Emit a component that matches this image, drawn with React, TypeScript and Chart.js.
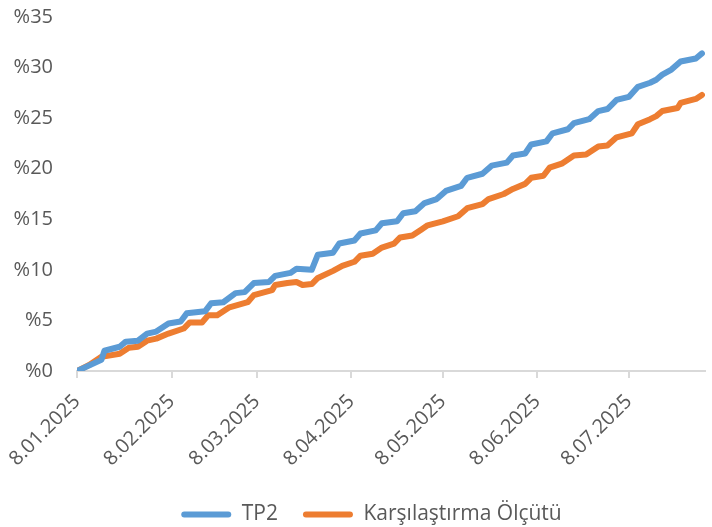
import { useEffect, useRef } from "react";
import { Chart, registerables } from "chart.js";

Chart.register(...registerables);

// x values are days counted from 8.01.2025
const tickDays = [0, 31, 59, 90, 120, 151, 181];
const tickLabels = ["8.01.2025", "8.02.2025", "8.03.2025", "8.04.2025", "8.05.2025", "8.06.2025", "8.07.2025"];

const tp2Days = [0, 8, 9, 14, 16, 20, 23, 26, 30, 34, 36, 42, 44, 48, 52, 55, 58, 63, 65, 70, 72, 77, 79, 84, 86, 91, 93, 98, 100, 105, 107, 111, 114, 118, 121, 126, 128, 133, 136, 141, 143, 147, 149, 154, 156, 161, 163, 168, 171, 174, 177, 181, 184, 188, 190, 192, 195, 198, 203, 205];
const tp2Values = [0, 1.1, 2.0, 2.4, 2.9, 3.0, 3.7, 3.9, 4.7, 4.9, 5.7, 5.9, 6.7, 6.8, 7.7, 7.8, 8.7, 8.8, 9.4, 9.7, 10.1, 10.0, 11.5, 11.7, 12.6, 12.9, 13.6, 13.9, 14.6, 14.8, 15.6, 15.8, 16.6, 17.0, 17.8, 18.3, 19.1, 19.5, 20.3, 20.6, 21.3, 21.5, 22.4, 22.7, 23.5, 23.9, 24.5, 24.9, 25.7, 25.9, 26.8, 27.1, 28.1, 28.5, 28.8, 29.3, 29.8, 30.6, 30.9, 31.4];

const benchDays = [0, 4, 8, 14, 17, 20, 23, 26, 30, 35, 37, 41, 43, 46, 50, 56, 58, 64, 65, 69, 72, 74, 77, 79, 84, 87, 91, 93, 97, 100, 104, 106, 110, 113, 115, 120, 125, 128, 133, 135, 140, 143, 147, 149, 153, 155, 159, 163, 167, 171, 174, 177, 182, 184, 188, 190, 192, 197, 198, 203, 205];
const benchValues = [0, 0.6, 1.4, 1.7, 2.3, 2.4, 3.0, 3.2, 3.7, 4.2, 4.8, 4.8, 5.5, 5.5, 6.3, 6.8, 7.5, 8.0, 8.5, 8.7, 8.8, 8.5, 8.6, 9.2, 9.9, 10.4, 10.8, 11.4, 11.6, 12.2, 12.6, 13.2, 13.4, 14.0, 14.4, 14.8, 15.3, 16.1, 16.5, 17.0, 17.5, 18.0, 18.5, 19.1, 19.3, 20.1, 20.5, 21.3, 21.4, 22.2, 22.3, 23.1, 23.5, 24.4, 24.9, 25.2, 25.7, 26.0, 26.5, 26.9, 27.3];

const seriesNames = ["TP2", "Karşılaştırma Ölçütü"];
const colors = ["#5B9BD5", "#ED7D31"];

const FONT = "'Open Sans', 'Liberation Sans', sans-serif";
const TEXT = "#595959";

const legendPlacer = {
  id: "legendPlacer",
  afterLayout(chart: any) {
    const lg = chart.legend;
    if (!lg) return;
    lg.top = 479;
    lg.bottom = 527;
    lg.height = 48;
    lg.left += 14;
    lg.right += 14;
  },
};

export default function App() {
  const ref = useRef<HTMLCanvasElement>(null);
  useEffect(() => {
    document.body.style.margin = "0";
    const toPts = (d: number[], v: number[]) => d.map((x, i) => ({ x, y: v[i] }));
    const chart = new Chart(ref.current!, {
      type: "line",
      data: {
        datasets: [
          {
            label: seriesNames[0],
            data: toPts(tp2Days, tp2Values),
            borderColor: colors[0],
            backgroundColor: colors[0],
            borderWidth: 6,
            pointRadius: 0,
            borderCapStyle: "round",
            borderJoinStyle: "round",
            tension: 0,
          },
          {
            label: seriesNames[1],
            data: toPts(benchDays, benchValues),
            borderColor: colors[1],
            backgroundColor: colors[1],
            borderWidth: 6,
            pointRadius: 0,
            borderCapStyle: "round",
            borderJoinStyle: "round",
            tension: 0,
          },
        ],
      },
      plugins: [legendPlacer],
      options: {
        animation: false,
        responsive: true,
        maintainAspectRatio: false,
        layout: { padding: { left: 10, right: 7, top: 10, bottom: 0 } },
        plugins: {
          tooltip: { enabled: false },
          legend: {
            position: "bottom",
            maxHeight: 20,
            labels: {
              boxWidth: 50,
              boxHeight: 6,
              useBorderRadius: true,
              borderRadius: 3,
              padding: 25,
              color: TEXT,
              font: { family: FONT, size: 21 },
              generateLabels: (c: any) =>
                c.data.datasets.map((ds: any, i: number) => ({
                  text: ds.label,
                  fillStyle: colors[i],
                  strokeStyle: colors[i],
                  lineWidth: 0,
                  borderRadius: 3,
                  fontColor: TEXT,
                  datasetIndex: i,
                  hidden: false,
                })),
            },
          },
        },
        scales: {
          x: {
            type: "linear",
            min: 0,
            max: 206,
            afterBuildTicks: (s: any) => {
              s.ticks = tickDays.map((v) => ({ value: v }));
            },
            afterFit: (s: any) => {
              s.height = 136;
            },
            ticks: {
              autoSkip: false,
              minRotation: 45,
              maxRotation: 45,
              padding: 12,
              color: TEXT,
              font: { family: FONT, size: 20 },
              callback: (v: any) => {
                const i = tickDays.indexOf(Number(v));
                return i >= 0 ? tickLabels[i] : "";
              },
            },
            grid: {
              display: true,
              drawOnChartArea: false,
              drawTicks: true,
              tickLength: 7,
              color: "#d9d9d9",
              lineWidth: 2,
            },
            border: { display: true, color: "#d9d9d9", width: 2 },
          },
          y: {
            min: 0,
            max: 35,
            afterFit: (s: any) => {
              s.width = 67;
            },
            ticks: {
              stepSize: 5,
              padding: 5,
              color: TEXT,
              font: { family: FONT, size: 20 },
              callback: (v: any) => "%" + v,
            },
            grid: { display: false, drawTicks: true, tickLength: 19 },
            border: { display: false },
          },
        },
      },
    });
    return () => chart.destroy();
  }, []);
  return (
    <div style={{ width: 712, height: 527, position: "relative" }}>
      <canvas ref={ref} />
    </div>
  );
}
